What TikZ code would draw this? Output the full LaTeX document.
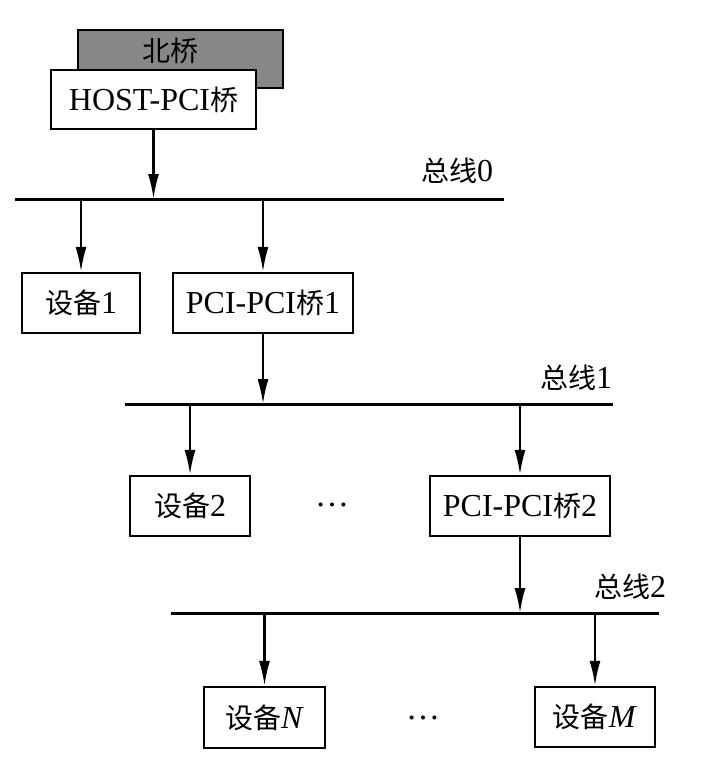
\documentclass[tikz,border=0pt]{standalone}
\usepackage{fontspec}
\setmainfont{Liberation Serif}
\newfontfamily\cjk{Noto Sans CJK SC}
\usetikzlibrary{arrows.meta}
\definecolor{nbgray}{RGB}{135,135,135}
\newcommand{\zh}[1]{{\cjk\fontsize{28}{33}\selectfont #1}}
\begin{document}
\begin{tikzpicture}[x=1pt,y=-1pt,
  box/.style={draw=black,line width=2.4pt,fill=white,rectangle,inner sep=0pt,
    minimum height=60pt,font=\fontsize{32}{38}\selectfont},
  bus/.style={line width=3pt},
  link/.style={line width=2.2pt,-{Latex[length=25pt,width=11pt]}},
  buslabel/.style={inner sep=0pt,font=\fontsize{32}{38}\selectfont},
  ellipsis/.style={inner sep=0pt,font=\fontsize{34}{40}\selectfont}]
\useasboundingbox (0,0) rectangle (722,773);

% host bridge stacked over the north bridge
\node[box,fill=nbgray,minimum width=205pt,minimum height=58pt] (north) at (180.5,59) {};
\node[inner sep=0pt] (northtext) at (170,51) {\zh{北桥}};
\node[box,minimum width=205pt,minimum height=59pt] (host) at (153.5,99.5) {HOST-PCI\zh{桥}};

% buses
\coordinate (b0l) at (15,199);  \coordinate (b0r) at (504,199);
\coordinate (b1l) at (125,404); \coordinate (b1r) at (613,404);
\coordinate (b2l) at (171,613); \coordinate (b2r) at (659,613);
\draw[bus] (b0l) -- (b0r);
\draw[bus] (b1l) -- (b1r);
\draw[bus] (b2l) -- (b2r);
\node[buslabel] (l0) at (457,171) {\zh{总线}0};
\node[buslabel] (l1) at (576,378) {\zh{总线}1};
\node[buslabel] (l2) at (630,587) {\zh{总线}2};

% devices and bridges
\node[box,minimum width=118pt] (dev1) at (81,303) {\zh{设备}1};
\node[box,minimum width=180pt] (ppb1) at (263,303) {PCI-PCI\zh{桥}1};
\node[box,minimum width=120pt] (dev2) at (190,506) {\zh{设备}2};
\node[box,minimum width=180pt] (ppb2) at (520,506) {PCI-PCI\zh{桥}2};
\node[box,minimum width=121pt,minimum height=61pt] (devN) at (264.5,717.5) {\zh{设备}\textit{N}};
\node[box,minimum width=120pt] (devM) at (595,717) {\zh{设备}\textit{M}};
\node[ellipsis] (dots1) at (332,505) {…};
\node[ellipsis] (dots2) at (423,718) {…};

% connections
\draw[link] (host.south) -- (host.south |- b0l);
\draw[link] (dev1.north |- b0l) -- (dev1.north);
\draw[link] (ppb1.north |- b0l) -- (ppb1.north);
\draw[link] (ppb1.south) -- (ppb1.south |- b1l);
\draw[link] (dev2.north |- b1l) -- (dev2.north);
\draw[link] (ppb2.north |- b1l) -- (ppb2.north);
\draw[link] (ppb2.south) -- (ppb2.south |- b2l);
\draw[link] (devN.north |- b2l) -- (devN.north);
\draw[link] (devM.north |- b2l) -- (devM.north);
\end{tikzpicture}
\end{document}
